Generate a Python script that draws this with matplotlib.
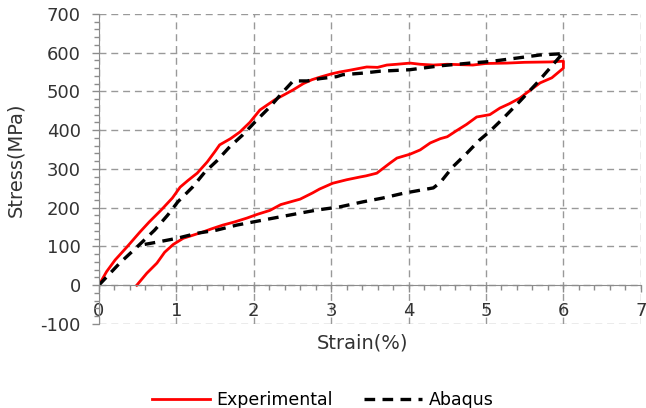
import matplotlib
matplotlib.use("Agg")
import matplotlib.pyplot as plt
from matplotlib.ticker import MultipleLocator

plt.rcParams["axes.unicode_minus"] = False

# experimental loop: loading then unloading
exp_strain = [0, 0.1, 0.21, 0.36, 0.53, 0.65, 0.81, 0.95, 1.05, 1.15, 1.27, 1.40, 1.50,
              1.56, 1.70, 1.82, 1.95, 2.08, 2.27, 2.40, 2.51, 2.64, 2.75, 2.86, 3.0, 3.11,
              3.25, 3.46, 3.6, 3.72, 3.85, 4.02, 4.15, 4.32, 4.5, 4.83, 5.0, 5.27, 5.5,
              5.83, 6.0,
              6.0, 5.85, 5.70, 5.55, 5.44, 5.30, 5.18, 5.05, 4.88, 4.75, 4.63, 4.50, 4.41,
              4.28, 4.15, 4.02, 3.85, 3.76, 3.59, 3.45, 3.37, 3.2, 3.02, 2.85, 2.76, 2.60,
              2.51, 2.35, 2.21, 2.05, 1.91, 1.75, 1.60, 1.45, 1.34, 1.2, 1.09, 0.96, 0.85,
              0.75, 0.62, 0.49]
exp_stress = [0, 35, 65, 98, 137, 163, 195, 225, 253, 270, 289, 318, 345,
              362, 378, 395, 420, 452, 478, 492, 504, 520, 530, 537, 545, 550,
              555, 563, 562, 568, 570, 573, 570, 568, 570, 568, 572, 573, 575,
              576, 578,
              560, 535, 522, 500, 483, 468, 457, 440, 434, 415, 400, 383, 378,
              367, 349, 338, 328, 315, 289, 282, 279, 272, 263, 248, 238, 222,
              217, 208, 193, 183, 173, 163, 155, 145, 137, 128, 121, 105, 85,
              57, 31, 0]

# abaqus loop
abq_strain = [0, 0.27, 0.49, 0.72, 0.89, 1.02, 1.21, 1.37, 1.52, 1.69, 1.86, 2.04, 2.21,
              2.38, 2.51, 2.69, 2.86, 3.07, 3.15, 3.40, 3.63, 4.02, 4.41, 4.79, 5.05,
              5.40, 5.70, 5.96, 6.0,
              5.83, 5.66, 5.44, 5.22, 5.05, 4.92, 4.75, 4.57, 4.41, 4.32, 4.15, 3.93,
              3.67, 3.41, 3.11, 2.82, 2.60, 2.12, 1.78, 1.52, 1.27, 1.01, 0.75, 0.53]
abq_stress = [0, 57, 98, 142, 181, 215, 253, 292, 320, 357, 388, 426, 460,
              499, 527, 527, 533, 538, 543, 547, 552, 556, 566, 573, 577,
              586, 594, 597, 600,
              561, 522, 475, 430, 397, 375, 340, 305, 265, 251, 245, 237,
              225, 215, 202, 194, 186, 168, 155, 142, 134, 121, 111, 103]

fig = plt.figure(figsize=(6.46, 4.08), dpi=100)
ax = fig.add_axes([0.153, 0.206, 0.839, 0.760])

ax.plot(exp_strain, exp_stress, color="red", lw=2.0, label="Experimental")
ax.plot(abq_strain, abq_stress, color="black", lw=2.4, dashes=(3.2, 2.2), label="Abaqus")

ax.set_xlim(0, 7)
ax.set_ylim(-100, 700)
ax.xaxis.set_major_locator(MultipleLocator(1))
ax.xaxis.set_minor_locator(MultipleLocator(0.2))
ax.yaxis.set_major_locator(MultipleLocator(100))
ax.yaxis.set_minor_locator(MultipleLocator(20))

ax.grid(True, which="major", color="#999999", ls=(0, (5, 3.5)), lw=1.0)
ax.set_axisbelow(True)

ax.spines["top"].set_visible(False)
ax.spines["right"].set_visible(False)
ax.spines["bottom"].set_position(("data", 0))
ax.spines["bottom"].set_color("#8c8c8c")
ax.spines["left"].set_color("#8c8c8c")

ax.tick_params(which="major", length=5, width=1, color="#8c8c8c", labelsize=13,
               labelcolor="#333333")
ax.tick_params(which="minor", length=3.5, width=1, color="#8c8c8c")
ax.tick_params(axis="x", which="major", pad=7)
ax.tick_params(axis="y", which="major", pad=8)

ax.set_xlabel("Strain(%)", fontsize=14, color="#333333")
ax.set_ylabel("Stress(MPa)", fontsize=14, color="#333333")
ax.xaxis.set_label_coords(0.487, -0.03)
ax.yaxis.set_label_coords(-0.135, 0.53)

fig.legend(loc="center", bbox_to_anchor=(0.5, 0.02), ncol=2, frameon=False,
           fontsize=12.5, handlelength=3.3, handletextpad=0.4, columnspacing=1.8)

fig.savefig("out.png", dpi=100)
